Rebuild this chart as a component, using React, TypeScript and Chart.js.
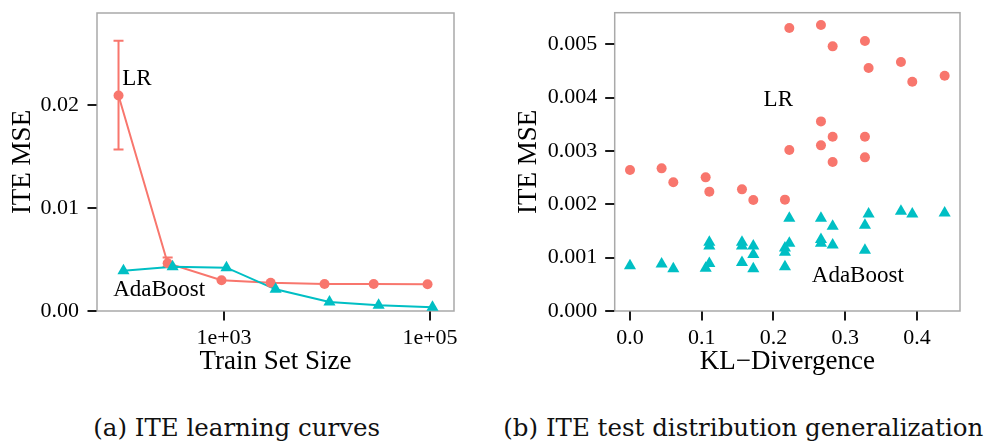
import React, { useEffect, useRef } from "react";
import { Chart, registerables } from "chart.js";

Chart.register(...registerables);

const SERIF = '"Liberation Serif", "Times New Roman", Times, serif';
const CAPTION_FONT = '"DejaVu Serif", serif';
const LR_COLOR = "#F8766D";
const ADA_COLOR = "#00BFC4";
const PANEL_GRAY = "#a9a9a9";
const TICK_COLOR = "#1a1a1a";
const TICK_LEN = 9.5;

// ---------- (a) ITE learning curves ----------
const trainSetSizes = [100, 300, 1000, 3000, 10000, 30000, 100000];
const lrCurveMse = [0.0209, 0.00463, 0.00298, 0.00274, 0.00261, 0.00261, 0.00259];
const lrCurveLower: (number | null)[] = [0.01566, 0.0043, null, null, null, null, null];
const lrCurveUpper: (number | null)[] = [0.02621, 0.00518, null, null, null, null, null];
const adaCurveMse = [0.00391, 0.0043, 0.0042, 0.0021, 0.00088, 0.00056, 0.00036];
const curveXTicks = [1000, 100000];
const curveYTicks = [0, 0.01, 0.02];
const curveNoteText = ["LR", "AdaBoost"];
const curveNoteX = [143, 235];
const curveNoteY = [0.02246, 0.00203];

// ---------- (b) ITE test distribution generalization ----------
const lrKl = [
  0, 0.0441, 0.0604, 0.1055, 0.1106, 0.1561, 0.1719, 0.216, 0.2221, 0.2221, 0.2662, 0.2662,
  0.2662, 0.2825, 0.2825, 0.2825, 0.3275, 0.3275, 0.3275, 0.3326, 0.3777, 0.3935, 0.4386,
];
const lrKlMse = [
  0.002644, 0.002675, 0.002413, 0.002506, 0.002238, 0.002281, 0.002081, 0.002088, 0.005306,
  0.003019, 0.005363, 0.003556, 0.003106, 0.004963, 0.003269, 0.002794, 0.005063, 0.003269,
  0.002881, 0.004556, 0.004669, 0.0043, 0.004413,
];
const adaKl = [
  0, 0.0441, 0.0604, 0.1055, 0.1106, 0.1106, 0.1106, 0.1561, 0.1561, 0.1561, 0.1719, 0.1719,
  0.1719, 0.216, 0.216, 0.216, 0.2221, 0.2221, 0.2662, 0.2662, 0.2662, 0.2825, 0.2825, 0.3275,
  0.3275, 0.3326, 0.3777, 0.3935, 0.4386,
];
const adaKlMse = [
  0.00085, 0.00088, 0.00079, 0.0008, 0.00089, 0.00129, 0.00122, 0.00091, 0.00129, 0.00122,
  0.00079, 0.00106, 0.00122, 0.00083, 0.0011, 0.00118, 0.00127, 0.00174, 0.00127, 0.00134,
  0.00174, 0.00124, 0.00159, 0.00114, 0.00161, 0.00182, 0.00187, 0.00182, 0.00184,
];
const klXTicks = [0, 0.1, 0.2, 0.3, 0.4];
const klYTicks = [0, 0.001, 0.002, 0.003, 0.004, 0.005];
const klNoteText = ["LR", "AdaBoost"];
const klNoteX = [0.2067, 0.3175];
const klNoteY = [0.003956, 0.000662];

const captionA = "(a) ITE learning curves";
const captionB = "(b) ITE test distribution generalization";

// horizontal dodge between the two learners on the log axis (in decades)
const DODGE = 0.024;

const expLabel = (v: number) => v.toExponential(0).replace(/e\+(\d)$/, "e+0$1");

function drawTickMarks(chart: any) {
  const { ctx, chartArea: a, scales } = chart;
  ctx.save();
  ctx.strokeStyle = TICK_COLOR;
  ctx.lineWidth = 2;
  ctx.lineCap = "butt";
  ctx.beginPath();
  scales.y.ticks.forEach((t: any) => {
    const py = Math.round(scales.y.getPixelForValue(t.value));
    ctx.moveTo(a.left - TICK_LEN, py);
    ctx.lineTo(a.left - 0.5, py);
  });
  scales.x.ticks.forEach((t: any) => {
    const px = Math.round(scales.x.getPixelForValue(t.value));
    ctx.moveTo(px, a.bottom + 0.5);
    ctx.lineTo(px, a.bottom + TICK_LEN);
  });
  ctx.stroke();
  ctx.restore();
}

// Full rectangle around the plotting panel, plus outward tick marks on both axes
const panelFrame = {
  id: "panelFrame",
  beforeDatasetsDraw(chart: any) {
    const { ctx, chartArea: a } = chart;
    ctx.save();
    ctx.strokeStyle = PANEL_GRAY;
    ctx.lineWidth = 1.5;
    ctx.strokeRect(a.left, a.top, a.right - a.left, a.bottom - a.top);
    ctx.restore();
  },
  afterDraw(chart: any) {
    drawTickMarks(chart);
  },
};

function notesPlugin(texts: string[], xs: number[], ys: number[]) {
  return {
    id: "notes",
    afterDatasetsDraw(chart: any) {
      const { ctx, scales } = chart;
      ctx.save();
      ctx.font = `23px ${SERIF}`;
      ctx.fillStyle = "#000";
      ctx.textAlign = "center";
      ctx.textBaseline = "middle";
      texts.forEach((t, i) => {
        ctx.fillText(t, scales.x.getPixelForValue(xs[i]), scales.y.getPixelForValue(ys[i]));
      });
      ctx.restore();
    },
  };
}

function errorBarsPlugin(xs: number[], lows: (number | null)[], highs: (number | null)[], color: string) {
  return {
    id: "errorBars",
    beforeDatasetsDraw(chart: any) {
      const { ctx, scales } = chart;
      ctx.save();
      ctx.strokeStyle = color;
      ctx.lineWidth = 2;
      xs.forEach((xv, i) => {
        const lo = lows[i];
        const hi = highs[i];
        if (lo == null || hi == null) return;
        const px = scales.x.getPixelForValue(xv);
        const y1 = scales.y.getPixelForValue(lo);
        const y2 = scales.y.getPixelForValue(hi);
        ctx.beginPath();
        ctx.moveTo(px, y1);
        ctx.lineTo(px, y2);
        ctx.moveTo(px - 5, y1);
        ctx.lineTo(px + 5, y1);
        ctx.moveTo(px - 5, y2);
        ctx.lineTo(px + 5, y2);
        ctx.stroke();
      });
      ctx.restore();
    },
  };
}

type AxisSpec = {
  xType: "linear" | "logarithmic";
  xMin: number;
  xMax: number;
  xTicks: number[];
  xFmt: (v: number) => string;
  xTitle: string;
  yMin: number;
  yMax: number;
  yTicks: number[];
  yFmt: (v: number) => string;
  yWidth: number;
  yTickPad: number;
  yTitlePad: number;
};

const noPadding = (sc: any) => {
  sc.paddingTop = 0;
  sc.paddingBottom = 0;
  sc.paddingLeft = 0;
  sc.paddingRight = 0;
};

function buildScales(s: AxisSpec) {
  const tickFont = { family: SERIF, size: 22 };
  const titleFont = { family: SERIF, size: 27 };
  return {
    x: {
      type: s.xType,
      min: s.xMin,
      max: s.xMax,
      afterBuildTicks: (sc: any) => {
        sc.ticks = s.xTicks.map((v) => ({ value: v }));
      },
      afterFit: (sc: any) => {
        sc.height = 69;
        noPadding(sc);
      },
      ticks: {
        callback: (v: any) => s.xFmt(Number(v)),
        font: tickFont,
        color: "#000",
        padding: 14,
        autoSkip: false,
        maxRotation: 0,
      },
      grid: { display: false, drawTicks: false },
      border: { display: false },
      title: {
        display: true,
        text: s.xTitle,
        font: titleFont,
        color: "#000",
        padding: { top: 0, bottom: 2 },
      },
    },
    y: {
      type: "linear",
      min: s.yMin,
      max: s.yMax,
      afterBuildTicks: (sc: any) => {
        sc.ticks = s.yTicks.map((v) => ({ value: v }));
      },
      afterFit: (sc: any) => {
        sc.width = s.yWidth;
        noPadding(sc);
      },
      ticks: {
        callback: (v: any) => s.yFmt(Number(v)),
        font: tickFont,
        color: "#000",
        padding: s.yTickPad,
        autoSkip: false,
      },
      grid: { display: false, drawTicks: false },
      border: { display: false },
      title: {
        display: true,
        text: "ITE MSE",
        font: titleFont,
        color: "#000",
        padding: { top: s.yTitlePad, bottom: 0 },
      },
    },
  };
}

function learningCurvesConfig(): any {
  const lrX = trainSetSizes.map((v) => v * Math.pow(10, -DODGE));
  const adaX = trainSetSizes.map((v) => v * Math.pow(10, DODGE));
  const lrPts = lrX.map((x, i) => ({ x, y: lrCurveMse[i] }));
  const adaPts = adaX.map((x, i) => ({ x, y: adaCurveMse[i] }));
  return {
    type: "line",
    data: {
      datasets: [
        { label: "AdaBoost", data: adaPts, showLine: false, pointStyle: "triangle", pointRadius: 7, backgroundColor: ADA_COLOR, borderWidth: 0, pointBorderWidth: 0 },
        { label: "LR", data: lrPts, showLine: false, pointStyle: "circle", pointRadius: 5, backgroundColor: LR_COLOR, borderWidth: 0, pointBorderWidth: 0 },
        { label: "AdaBoost line", data: adaPts, borderColor: ADA_COLOR, borderWidth: 2, pointRadius: 0, tension: 0 },
        { label: "LR line", data: lrPts, borderColor: LR_COLOR, borderWidth: 2, pointRadius: 0, tension: 0 },
      ],
    },
    options: {
      responsive: false,
      animation: false,
      layout: { padding: { left: 0, right: 26, top: 13, bottom: 0 } },
      plugins: { legend: { display: false }, tooltip: { enabled: false } },
      scales: buildScales({
        xType: "logarithmic",
        xMin: 58.5,
        xMax: 171000,
        xTicks: curveXTicks,
        xFmt: expLabel,
        xTitle: "Train Set Size",
        yMin: 0,
        yMax: 0.0289,
        yTicks: curveYTicks,
        yFmt: (v) => v.toFixed(2),
        yWidth: 97,
        yTickPad: 18,
        yTitlePad: 7,
      }),
    },
    plugins: [
      panelFrame,
      errorBarsPlugin(lrX, lrCurveLower, lrCurveUpper, LR_COLOR),
      notesPlugin(curveNoteText, curveNoteX, curveNoteY),
    ],
  };
}

function klConfig(): any {
  return {
    type: "scatter",
    data: {
      datasets: [
        { label: "AdaBoost", data: adaKl.map((x, i) => ({ x, y: adaKlMse[i] })), pointStyle: "triangle", pointRadius: 7, backgroundColor: ADA_COLOR, borderWidth: 0 },
        { label: "LR", data: lrKl.map((x, i) => ({ x, y: lrKlMse[i] })), pointStyle: "circle", pointRadius: 5, backgroundColor: LR_COLOR, borderWidth: 0 },
      ],
    },
    options: {
      responsive: false,
      animation: false,
      layout: { padding: { left: 0, right: 31, top: 12.7, bottom: 0 } },
      plugins: { legend: { display: false }, tooltip: { enabled: false } },
      scales: buildScales({
        xType: "linear",
        xMin: -0.0213,
        xMax: 0.46,
        xTicks: klXTicks,
        xFmt: (v) => v.toFixed(1),
        xTitle: "KL\u2212Divergence",
        yMin: 0,
        yMax: 0.005594,
        yTicks: klYTicks,
        yFmt: (v) => v.toFixed(3),
        yWidth: 134.7,
        yTickPad: 17.4,
        yTitlePad: 32.6,
      }),
    },
    plugins: [panelFrame, notesPlugin(klNoteText, klNoteX, klNoteY)],
  };
}

function ChartCanvas({ makeConfig, left, width }: { makeConfig: () => any; left: number; width: number }) {
  const ref = useRef<HTMLCanvasElement>(null);
  useEffect(() => {
    const chart = new Chart(ref.current as HTMLCanvasElement, makeConfig());
    return () => chart.destroy();
  }, [makeConfig]);
  return (
    <canvas
      ref={ref}
      width={width}
      height={380}
      style={{ position: "absolute", left, top: 0, width, height: 380, display: "block" }}
    />
  );
}

const captionStyle: React.CSSProperties = {
  position: "absolute",
  top: 416,
  fontFamily: CAPTION_FONT,
  fontSize: 24.5,
  lineHeight: 1,
  color: "#111",
  textAlign: "center",
  whiteSpace: "nowrap",
};

export default function App() {
  return (
    <div
      style={{
        position: "fixed",
        left: 0,
        top: 0,
        width: 991,
        height: 442,
        overflow: "hidden",
        background: "#fff",
      }}
    >
      <ChartCanvas makeConfig={learningCurvesConfig} left={0} width={480} />
      <ChartCanvas makeConfig={klConfig} left={480} width={511} />
      <div style={{ ...captionStyle, left: 36.7, width: 400 }}>{captionA}</div>
      <div style={{ ...captionStyle, left: 493.3, width: 500 }}>{captionB}</div>
    </div>
  );
}
